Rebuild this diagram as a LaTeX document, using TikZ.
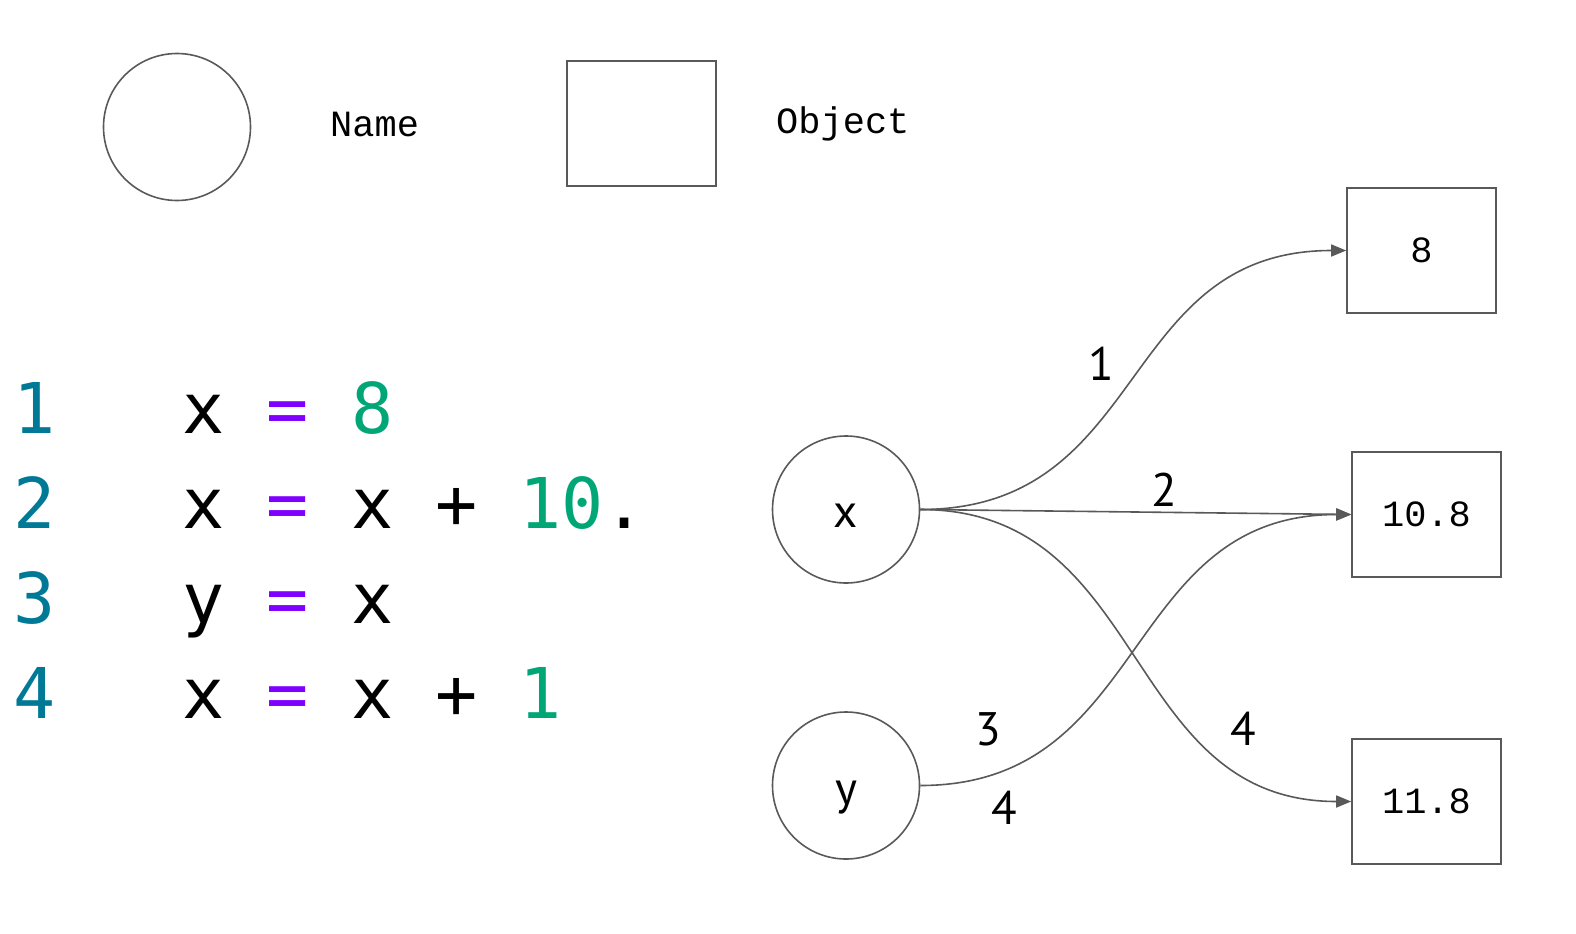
\documentclass[tikz,border=0pt]{standalone}
\usepackage{fontspec}
\usetikzlibrary{arrows.meta,calc}
\newfontfamily\codefont{DejaVu Sans Mono}
\newfontfamily\monofont{Liberation Mono}
\newfontfamily\labfont{PT Sans}
\definecolor{lnum}{RGB}{0,121,150}
\definecolor{opc}{RGB}{128,0,255}
\definecolor{numc}{RGB}{0,166,118}
\definecolor{edgec}{RGB}{89,89,89}
\tikzset{
  namenode/.style={circle,draw=edgec,line width=1.6bp,minimum size=147bp,inner sep=0pt},
  objnode/.style={rectangle,draw=edgec,line width=1.6bp,minimum width=149bp,minimum height=125bp,inner sep=0pt,font=\monofont\fontsize{37bp}{40bp}\selectfont},
  legtext/.style={anchor=west,inner sep=0pt,font=\monofont\fontsize{37bp}{40bp}\selectfont},
  code/.style={anchor=base,inner sep=0pt,font=\codefont\fontsize{70bp}{80bp}\selectfont},
  elabel/.style={anchor=base,inner sep=0pt,font=\labfont\fontsize{47bp}{50bp}\selectfont},
  conn/.style={draw=edgec,line width=1.6bp,-{Triangle[length=15bp,width=12bp]}},
}
\begin{document}
\begin{tikzpicture}[x=1bp,y=-1bp]
\useasboundingbox (0,0) rectangle (1576,933);
% legend
\node[namenode] (legname) at (177,127) {};
\node[legtext] (legnametxt) at (330,124) {Name};
\node[objnode] (legobj) at (641.5,123.5) {};
\node[legtext] (legobjtxt) at (776,124) {Object};
% code lines
\def\cx#1{\fpeval{14+42.14*(#1+0.5)}}
% line 1
\node[code,text=lnum] (l1n) at (\cx{0},433) {1};
\node[code] (l1a) at (\cx{4},433) {x};
\node[code,text=opc] (l1b) at (\cx{6},433) {=};
\node[code,text=numc] (l1c) at (\cx{8},433) {8};
% line 2
\node[code,text=lnum] (l2n) at (\cx{0},528) {2};
\node[code] (l2a) at (\cx{4},528) {x};
\node[code,text=opc] (l2b) at (\cx{6},528) {=};
\node[code] (l2c) at (\cx{8},528) {x};
\node[code] (l2d) at (\cx{10},528) {+};
\node[code,text=numc] (l2e) at (\cx{12},528) {1};
\node[code,text=numc] (l2f) at (\cx{13},528) {0};
\node[code] (l2g) at (\cx{14},528) {.};
% line 3
\node[code,text=lnum] (l3n) at (\cx{0},623) {3};
\node[code] (l3a) at (\cx{4},623) {y};
\node[code,text=opc] (l3b) at (\cx{6},623) {=};
\node[code] (l3c) at (\cx{8},623) {x};
% line 4
\node[code,text=lnum] (l4n) at (\cx{0},718) {4};
\node[code] (l4a) at (\cx{4},718) {x};
\node[code,text=opc] (l4b) at (\cx{6},718) {=};
\node[code] (l4c) at (\cx{8},718) {x};
\node[code] (l4d) at (\cx{10},718) {+};
\node[code,text=numc] (l4e) at (\cx{12},718) {1};
% names
\node[namenode] (nx) at (846,509.5) {};
\node[elabel] (nxt) at (846,527) {x};
\node[namenode] (ny) at (846,785.5) {};
\node[elabel] (nyt) at (846,804) {y};
% objects
\node[objnode] (o8) at (1421.5,250.5) {8};
\node[objnode] (o108) at (1426.5,514.5) {10.8};
\node[objnode] (o118) at (1426.5,801.5) {11.8};
% connectors
\draw[conn] (nx.east) .. controls ($(nx.east)+(230,0)$) and ($(o8.west)+(-230,0)$) .. (o8.west);
\draw[conn] (nx.east) -- (o108.west);
\draw[conn] (nx.east) .. controls ($(nx.east)+(230,0)$) and ($(o118.west)+(-230,0)$) .. (o118.west);
\draw[conn] (ny.east) .. controls ($(ny.east)+(230,0)$) and ($(o108.west)+(-230,0)$) .. (o108.west);
% edge labels
\node[elabel] (e1) at (1101,380) {1};
\node[elabel] (e2) at (1164,506) {2};
\node[elabel] (e3) at (988,745) {3};
\node[elabel] (e4a) at (1243,745) {4};
\node[elabel] (e4b) at (1004,824) {4};
\end{tikzpicture}
\end{document}
